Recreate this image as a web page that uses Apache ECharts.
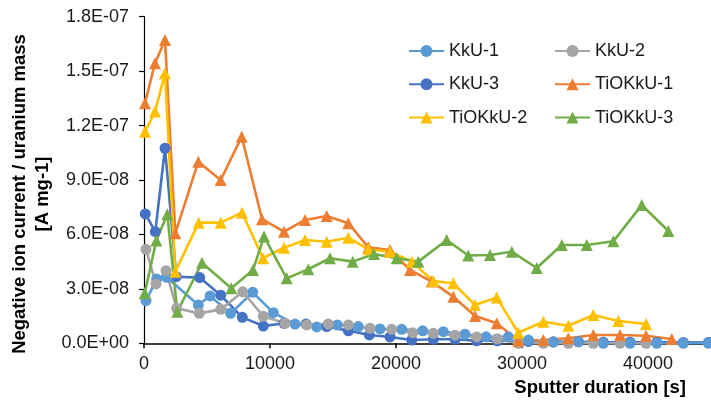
<!DOCTYPE html>
<html>
<head>
<meta charset="utf-8">
<script src="https://cdn.jsdelivr.net/npm/echarts@6/dist/echarts.min.js"></script>
<style>
  html, body { margin: 0; padding: 0; background: #fff; }
  #chart { width: 711px; height: 403px; }
</style>
</head>
<body>
<div id="chart"></div>
<script>
// Sputter duration [s] and normalised negative ion current [A mg-1] per sample
const kku1Time = [159, 1008, 1802, 4310, 5238, 6881, 8628, 10263, 11985, 13707, 15342, 17009, 18731, 20454, 22121, 23756, 25478, 27145, 28915, 30502, 32487, 34471, 36455, 38575, 40694, 42804, 44788];
const kku1Val  = [2.35e-8, 3.54e-8, 3.64e-8, 2.11e-8, 2.61e-8, 1.65e-8, 2.81e-8, 1.69e-8, 1.06e-8, 0.90e-8, 1.01e-8, 0.92e-8, 0.79e-8, 0.77e-8, 0.69e-8, 0.64e-8, 0.50e-8, 0.36e-8, 0.36e-8, 0.18e-8, 0.06e-8, 0.09e-8, 0.0e-8, 0.0e-8, 0.0e-8, 0.0e-8, 0.0e-8];

const kku2Time = [159, 952, 1746, 2595, 4389, 6088, 7834, 9469, 11191, 12914, 14628, 16216, 17938, 19661, 21327, 22962, 24684, 26406, 28042, 29708, 31693, 33677, 35661, 37781, 39845];
const kku2Val  = [5.18e-8, 3.27e-8, 4.00e-8, 1.93e-8, 1.65e-8, 1.87e-8, 2.84e-8, 1.49e-8, 1.10e-8, 1.01e-8, 1.06e-8, 1.01e-8, 0.83e-8, 0.77e-8, 0.58e-8, 0.55e-8, 0.45e-8, 0.35e-8, 0.25e-8, 0.0e-8, 0.0e-8, 0.0e-8, 0.0e-8, 0.0e-8, 0.0e-8];

const kku3Time = [103, 897, 1667, 2564, 4421, 6088, 7802, 9469, 11112, 12858, 14501, 16216, 17882, 19526, 21248, 22962, 24684, 26406, 28042, 30502, 32487, 34471, 36455, 38575, 40694, 42804, 44788, 45000];
const kku3Val  = [7.13e-8, 6.15e-8, 10.75e-8, 3.67e-8, 3.62e-8, 2.65e-8, 1.43e-8, 0.95e-8, 1.10e-8, 1.06e-8, 0.92e-8, 0.69e-8, 0.46e-8, 0.35e-8, 0.18e-8, 0.22e-8, 0.22e-8, 0.14e-8, 0.14e-8, 0.10e-8, 0.08e-8, 0.08e-8, 0.06e-8, 0.06e-8, 0.05e-8, 0.05e-8, 0.04e-8, 0.04e-8];

const tio1Time = [79, 873, 1667, 2484, 4310, 6088, 7755, 9366, 11112, 12779, 14501, 16216, 17803, 19526, 21113, 22835, 24549, 26271, 27994, 29708, 31693, 33677, 35661, 37781, 39845, 41884];
const tio1Val  = [13.23e-8, 15.44e-8, 16.72e-8, 6.06e-8, 10.01e-8, 9.00e-8, 11.39e-8, 6.84e-8, 6.15e-8, 6.80e-8, 7.02e-8, 6.62e-8, 5.29e-8, 5.14e-8, 4.04e-8, 3.40e-8, 2.57e-8, 1.50e-8, 1.10e-8, 0.14e-8, 0.18e-8, 0.28e-8, 0.46e-8, 0.46e-8, 0.42e-8, 0.24e-8];

const tio2Time = [79, 873, 1667, 2484, 4342, 6088, 7778, 9445, 11112, 12779, 14501, 16216, 17803, 19526, 21248, 22962, 24549, 26271, 27994, 29708, 31693, 33677, 35661, 37646, 39845];
const tio2Val  = [11.66e-8, 12.77e-8, 14.88e-8, 3.95e-8, 6.65e-8, 6.65e-8, 7.20e-8, 4.69e-8, 5.27e-8, 5.69e-8, 5.60e-8, 5.82e-8, 5.18e-8, 5.05e-8, 4.50e-8, 3.43e-8, 3.31e-8, 2.11e-8, 2.52e-8, 0.58e-8, 1.19e-8, 0.97e-8, 1.56e-8, 1.23e-8, 1.06e-8];

const tio3Time = [56, 976, 1849, 2643, 4603, 6929, 8651, 9524, 11326, 13041, 14763, 16565, 18256, 20057, 21771, 24025, 25740, 27462, 29185, 31168, 33153, 35137, 37249, 39502, 41614];
const tio3Val  = [2.76e-8, 5.66e-8, 7.11e-8, 1.74e-8, 4.44e-8, 3.03e-8, 4.04e-8, 5.88e-8, 3.58e-8, 4.08e-8, 4.69e-8, 4.50e-8, 4.92e-8, 4.69e-8, 4.50e-8, 5.69e-8, 4.84e-8, 4.87e-8, 5.05e-8, 4.15e-8, 5.42e-8, 5.42e-8, 5.62e-8, 7.62e-8, 6.19e-8];

const seriesNames = ['KkU-1', 'KkU-2', 'KkU-3', 'TiOKkU-1', 'TiOKkU-2', 'TiOKkU-3'];
const xTickLabels = ['0', '10000', '20000', '30000', '40000'];
const yTickLabels = ['0.0E+00', '3.0E-08', '6.0E-08', '9.0E-08', '1.2E-07', '1.5E-07', '1.8E-07'];

const palette = ['#5B9BD5', '#A5A5A5', '#4472C4', '#ED7D31', '#FFC000', '#70AD47'];
const shapes = ['circle', 'circle', 'circle', 'triangle', 'triangle', 'triangle'];
const times = [kku1Time, kku2Time, kku3Time, tio1Time, tio2Time, tio3Time];
const values = [kku1Val, kku2Val, kku3Val, tio1Val, tio2Val, tio3Val];
// KkU-3 is painted first so the other curves sit above it
const drawOrder = [2, 0, 1, 3, 4, 5];

const FONT = '"Liberation Sans", Arial, sans-serif';

const series = drawOrder.map(i => ({
  name: seriesNames[i],
  type: 'line',
  data: times[i].map((t, k) => [t, values[i][k]]),
  symbol: shapes[i],
  symbolSize: shapes[i] === 'circle' ? 11 : 12,
  showAllSymbol: true,
  lineStyle: { width: 2.6, color: palette[i], join: 'round' },
  itemStyle: { color: palette[i], borderWidth: 0 },
  emphasis: { disabled: true },
  animation: false
}));

const legendCommon = {
  orient: 'vertical',
  itemWidth: 35,
  itemHeight: 15,
  itemGap: 13.3,
  textStyle: { fontFamily: FONT, fontSize: 18, color: '#1a1a1a', lineHeight: 20 },
  selectedMode: false
};

const chart = echarts.init(document.getElementById('chart'), null, { renderer: 'canvas' });
chart.setOption({
  animation: false,
  grid: { left: 144, right: 0, top: 16.7, bottom: 59.7, outerBoundsMode: 'none' },
  xAxis: {
    type: 'value',
    min: 0,
    max: 45000,
    interval: 10000,
    axisLine: { lineStyle: { color: '#000', width: 1.5 } },
    axisTick: { show: true, length: 5, lineStyle: { color: '#000', width: 1.5 } },
    splitLine: { show: false },
    axisLabel: {
      margin: 12,
      showMaxLabel: false,
      fontFamily: FONT, fontSize: 18, color: '#1a1a1a',
      formatter: v => { const i = Math.round(v / 10000); return (v % 10000 === 0 && xTickLabels[i]) ? xTickLabels[i] : ''; }
    }
  },
  yAxis: {
    type: 'value',
    min: 0,
    max: 1.8e-7,
    interval: 3e-8,
    axisLine: { show: true, lineStyle: { color: '#000', width: 1.2 } },
    axisTick: { show: true, length: 5, lineStyle: { color: '#000', width: 1.2 } },
    splitLine: { show: false },
    axisLabel: {
      margin: 15,
      fontFamily: FONT, fontSize: 18, color: '#1a1a1a',
      formatter: v => yTickLabels[Math.round(v / 3e-8)] || ''
    }
  },
  legend: [
    Object.assign({}, legendCommon, { left: 403, top: 36, data: ['KkU-1', 'KkU-3', 'TiOKkU-2'] }),
    Object.assign({}, legendCommon, { left: 549, top: 36, data: ['KkU-2', 'TiOKkU-1', 'TiOKkU-3'] })
  ],
  graphic: [
    {
      type: 'text', x: 20, y: 194, rotation: Math.PI / 2,
      style: { text: 'Negative ion current / uranium mass', font: 'bold 18.5px ' + FONT, fill: '#000', align: 'center', verticalAlign: 'middle' }
    },
    {
      type: 'text', x: 43, y: 194, rotation: Math.PI / 2,
      style: { text: '[A mg-1]', font: 'bold 18.5px ' + FONT, fill: '#000', align: 'center', verticalAlign: 'middle' }
    },
    {
      type: 'text', x: 686, y: 388,
      style: { text: 'Sputter duration [s]', font: 'bold 18.5px ' + FONT, fill: '#000', align: 'right', verticalAlign: 'middle' }
    }
  ],
  series
});
</script>
</body>
</html>
